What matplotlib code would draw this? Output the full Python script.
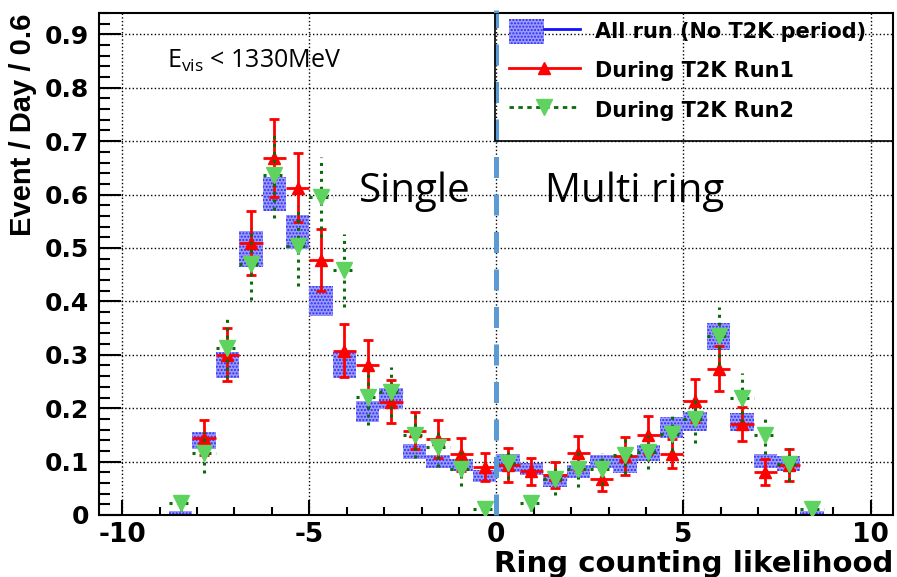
import numpy as np
import matplotlib
matplotlib.use("Agg")
import matplotlib.pyplot as plt
from matplotlib.patches import Patch, Rectangle
from matplotlib.lines import Line2D
from matplotlib.legend_handler import HandlerTuple
from matplotlib.ticker import MultipleLocator

plt.rcParams['axes.unicode_minus'] = False

# binning of the histograms (32 bins from -10 to 10)
n_bins = 32
x_lo, x_hi = -10.0, 10.0
divider_x = 0.0

nan = np.nan
# All run (No T2K period): value and error per bin
all_run = [nan, nan, 0.004, 0.140, 0.281, 0.498, 0.601, 0.530, 0.401, 0.281,
           0.194, 0.218, 0.119, 0.100, 0.094, 0.073, 0.097, 0.086, 0.065, 0.082,
           0.100, 0.094, 0.117, 0.164, 0.175, 0.334, 0.174, 0.101, 0.097, 0.004,
           nan, nan]
all_run_err = [nan, nan, 0.003, 0.016, 0.024, 0.034, 0.032, 0.032, 0.028, 0.024,
               0.020, 0.020, 0.014, 0.0125, 0.011, 0.012, 0.017, 0.012, 0.012, 0.012,
               0.012, 0.016, 0.015, 0.019, 0.018, 0.025, 0.017, 0.013, 0.014, 0.003,
               nan, nan]

# During T2K Run1
run1 = [nan, nan, nan, 0.145, 0.300, 0.510, 0.668, 0.613, 0.477, 0.308,
        0.280, 0.212, 0.158, 0.142, 0.114, 0.090, 0.093, 0.082, 0.075, 0.116,
        0.068, 0.110, 0.150, 0.115, 0.214, 0.274, 0.170, 0.080, 0.094, nan,
        nan, nan]
run1_err = [nan, nan, nan, 0.032, 0.050, 0.060, 0.073, 0.065, 0.058, 0.050,
            0.047, 0.040, 0.035, 0.035, 0.031, 0.026, 0.032, 0.025, 0.025, 0.032,
            0.023, 0.036, 0.036, 0.027, 0.040, 0.042, 0.032, 0.024, 0.030, nan,
            nan, nan]

# During T2K Run2
run2 = [nan, nan, 0.022, 0.117, 0.313, 0.470, 0.636, 0.503, 0.596, 0.458,
        0.221, 0.230, 0.149, 0.127, 0.086, 0.012, 0.098, 0.022, 0.067, 0.086,
        0.087, 0.113, 0.118, 0.152, 0.180, 0.335, 0.220, 0.149, 0.095, 0.012,
        nan, nan]
run2_err = [nan, nan, 0.014, 0.038, 0.057, 0.068, 0.080, 0.075, 0.075, 0.069,
            0.052, 0.047, 0.042, 0.038, 0.032, 0.010, 0.030, 0.015, 0.030, 0.033,
            0.030, 0.036, 0.032, 0.033, 0.045, 0.055, 0.045, 0.034, 0.031, 0.010,
            nan, nan]

labels = ["All run (No T2K period)", "During T2K Run1", "During T2K Run2"]
x_ticks = [-10, -5, 0, 5, 10]
y_ticks = [0, 0.1, 0.2, 0.3, 0.4, 0.5, 0.6, 0.7, 0.8, 0.9]

edges = np.linspace(x_lo, x_hi, n_bins + 1)
centers = 0.5 * (edges[:-1] + edges[1:])
width = edges[1] - edges[0]
all_run = np.array(all_run)
all_run_err = np.array(all_run_err)

blue_fc = '#9a9aff'
blue_hatch = '#2a2af0'
red = '#ff0000'
dgreen = '#0b6b0b'
lgreen = '#5fd35f'
bold = dict(family='DejaVu Sans', weight='bold')

fig = plt.figure(figsize=(8.97, 5.77), dpi=100)
ax = fig.add_axes([99 / 897, 62 / 577, 794 / 897, 502 / 577])

ax.bar(centers, 2 * all_run_err, bottom=all_run - all_run_err, width=width,
       color=blue_fc, edgecolor=blue_hatch, hatch='.....', linewidth=0, zorder=2)

# Run1: red up triangles
ax.errorbar(centers, run1, yerr=run1_err, fmt='none', ecolor=red, elinewidth=2,
            capsize=3.5, capthick=2, zorder=3)
ax.errorbar(centers, run1, xerr=width / 2, fmt='none', ecolor=red, elinewidth=2,
            capsize=0, zorder=3)
ax.plot(centers, run1, ls='none', marker='^', ms=9, color=red, zorder=4)

# Run2: green down triangles, dotted error bars
eb = ax.errorbar(centers, run2, yerr=run2_err, xerr=width / 2, fmt='none',
                 ecolor=dgreen, elinewidth=2.2, capsize=0, zorder=5)
for lc in eb[2]:
    lc.set_linestyle((0, (1, 1.6)))
ax.plot(centers, run2, ls='none', marker='v', ms=11, mfc=lgreen, mec=lgreen, zorder=6)

ax.axvline(divider_x, ymin=0, ymax=1.005, color='#5b9bd5', lw=3.6,
           ls=(0, (4.2, 3.3)), clip_on=False, zorder=7)

ax.set_xlim(-10.62, 10.6)
ax.set_ylim(0, 0.94)
ax.set_xticks(x_ticks)
ax.set_yticks(y_ticks)
ax.set_yticklabels([f'{v:g}' for v in y_ticks])
ax.xaxis.set_minor_locator(MultipleLocator(1))
ax.yaxis.set_minor_locator(MultipleLocator(0.02))
ax.tick_params(which='both', direction='in', width=1.5, colors='black')
ax.tick_params(axis='y', which='major', length=16, pad=7, labelsize=18)
ax.tick_params(axis='y', which='minor', length=8)
ax.tick_params(axis='x', which='major', length=11, pad=5, labelsize=19)
ax.tick_params(axis='x', which='minor', length=5.5)
for lab in ax.get_xticklabels() + ax.get_yticklabels():
    lab.set_fontweight('bold')
ax.grid(True, which='major', ls=':', color='black', lw=1, zorder=0)
ax.set_axisbelow(True)
for sp in ax.spines.values():
    sp.set_linewidth(1.5)

# legend
h_all = (Patch(fc=blue_fc, ec=blue_hatch, hatch='.....', lw=0),
         Line2D([], [], color='#1010ff', lw=2))
h_r1 = Line2D([], [], color=red, lw=2, marker='^', ms=9)
h_r2 = Line2D([], [], color=dgreen, lw=2, ls=(0, (1.6, 1.6)), marker='v', ms=11,
              mfc=lgreen, mec=lgreen)
ax.legend([h_all, h_r1, h_r2], labels, handler_map={tuple: HandlerTuple(ndivide=None)},
          loc='upper left', bbox_to_anchor=(0.516, 0.988), frameon=False,
          prop=dict(size=15, **bold), handlelength=3.4, handleheight=1.45,
          handletextpad=0.75, labelspacing=0.69, borderpad=0, borderaxespad=0,
          numpoints=1)
ax.add_patch(Rectangle((0.4987, 0.745), 0.5013, 0.255, transform=ax.transAxes,
                       fill=False, ec='black', lw=1.2, zorder=8))

ax.text(0.0856, 0.890, r'E$_\mathregular{vis}$ < 1330MeV', transform=ax.transAxes,
        family='Open Sans', fontsize=18, va='baseline')
ax.text(0.398, 0.6235, 'Single', transform=ax.transAxes, family='Open Sans',
        fontsize=29, ha='center', va='baseline')
ax.text(0.674, 0.6235, 'Multi ring', transform=ax.transAxes, family='Open Sans',
        fontsize=29, ha='center', va='baseline')

fig.text(23 / 897, 1 - 125 / 577, 'Event / Day / 0.6', rotation=90, ha='center',
         va='center', family='Liberation Sans', weight='bold', fontsize=21)
fig.text(893 / 897, 1 - 572 / 577, 'Ring counting likelihood', ha='right',
         va='baseline', fontsize=21, **bold)

fig.savefig('out.png', dpi=100, facecolor='white')
